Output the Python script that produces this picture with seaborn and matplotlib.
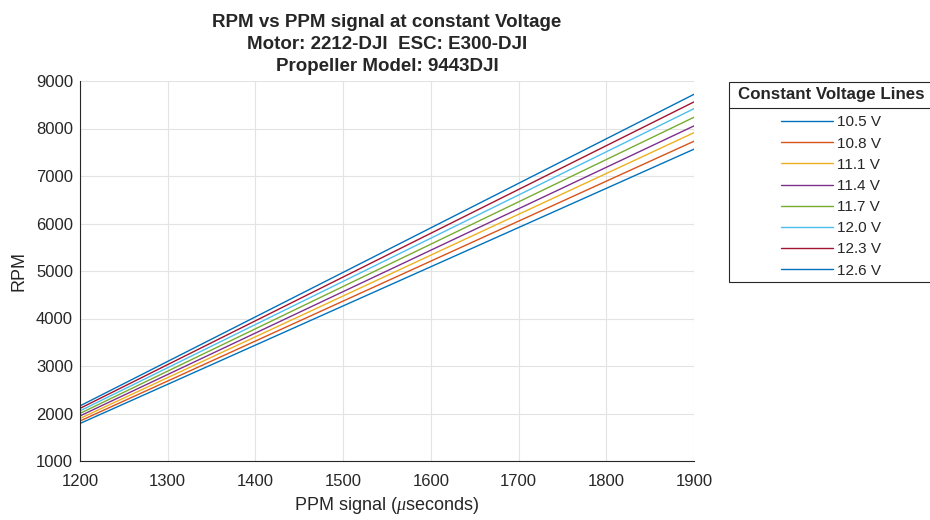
import matplotlib
matplotlib.use("Agg")
import matplotlib.pyplot as plt
from matplotlib.lines import Line2D
from matplotlib.patches import Rectangle
import seaborn as sns
import pandas as pd

voltages = ["10.5 V", "10.8 V", "11.1 V", "11.4 V", "11.7 V", "12.0 V", "12.3 V", "12.6 V"]
ppm = [1200, 1900]
rpm_at_1200 = [1790, 1843, 1896, 1949, 2002, 2055, 2108, 2160]
rpm_at_1900 = [7565, 7732, 7912, 8055, 8237, 8418, 8560, 8720]
colors = ["#0072BD", "#D95319", "#EDB120", "#7E2F8E", "#77AC30", "#4DBEEE", "#A2142F", "#0072BD"]

rows = []
for v, a, b in zip(voltages, rpm_at_1200, rpm_at_1900):
    rows.append({"ppm": ppm[0], "rpm": a, "Voltage": v})
    rows.append({"ppm": ppm[1], "rpm": b, "Voltage": v})
df = pd.DataFrame(rows)

sns.set_style("white")
plt.rcParams["font.family"] = ["Liberation Sans", "DejaVu Sans"]
plt.rcParams["mathtext.fontset"] = "custom"
plt.rcParams["mathtext.it"] = "Liberation Serif:italic"

W, H = 930, 520
fig = plt.figure(figsize=(9.3, 5.2), dpi=100)
ax = fig.add_axes([80 / W, 1 - 461 / H, (694 - 80) / W, (461 - 81) / H])

sns.lineplot(data=df, x="ppm", y="rpm", hue="Voltage", hue_order=voltages,
             palette=colors, linewidth=1.0, ax=ax, legend=False)

ax.set_xlim(1200, 1900)
ax.set_ylim(1000, 9000)
ax.set_xticks(range(1200, 1901, 100))
ax.set_yticks(range(1000, 9001, 1000))
ax.grid(True, color="#e3e3e3", linewidth=0.8)
ax.set_axisbelow(True)
for s in ["top", "right"]:
    ax.spines[s].set_visible(False)
for s in ["left", "bottom"]:
    ax.spines[s].set_color("#262626")
    ax.spines[s].set_linewidth(0.8)
ax.tick_params(direction="in", length=4, width=0.8, color="#262626",
               labelsize=12, labelcolor="#262626")
ax.tick_params(axis="x", pad=9)
ax.tick_params(axis="y", pad=5)
ax.set_xlabel(r"PPM signal ($\mu$seconds)", fontsize=13, color="#262626", labelpad=5)
ax.set_ylabel("RPM", fontsize=13, color="#262626", labelpad=6)
ax.set_title("RPM vs PPM signal at constant Voltage\nMotor: 2212-DJI  ESC: E300-DJI\nPropeller Model: 9443DJI",
             fontsize=13.5, fontweight="bold", linespacing=1.4, pad=7)

# legend box drawn like MATLAB's titled legend
bx0, bx1, by0, by1, ysep = 729, 935, 82, 282, 108
fig.add_artist(Rectangle((bx0 / W, 1 - by1 / H), (bx1 - bx0) / W, (by1 - by0) / H,
                         transform=fig.transFigure, fill=True, facecolor="white",
                         edgecolor="#262626", lw=0.8, clip_on=False))
fig.add_artist(Line2D([bx0 / W, bx1 / W], [1 - ysep / H, 1 - ysep / H],
                      transform=fig.transFigure, color="#262626", lw=0.8))
fig.text(831 / W, 1 - 95 / H, "Constant Voltage Lines", fontsize=12.2, fontweight="bold",
         ha="center", va="center")

handles = [Line2D([0], [0], color=c, lw=1.0) for c in colors]
leg = fig.legend(handles, voltages, loc="upper center",
                 bbox_to_anchor=(831 / W, 1 - 110 / H),
                 fontsize=11, frameon=False,
                 handlelength=3.4, handletextpad=0.3, labelspacing=0.47,
                 borderpad=0.35, borderaxespad=0)

fig.savefig("out.png", dpi=100)
